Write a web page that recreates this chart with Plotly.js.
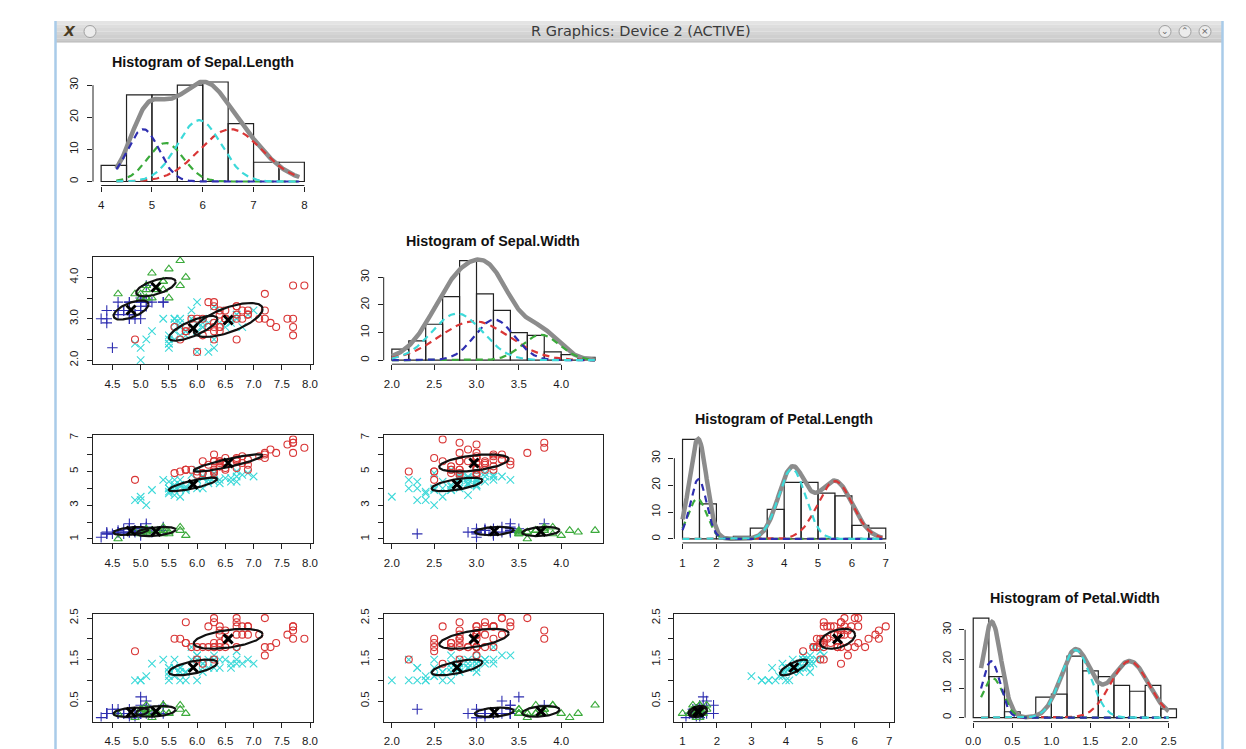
<!DOCTYPE html>
<html><head><meta charset="utf-8">
<script src="https://cdn.plot.ly/plotly-3.0.1.min.js"></script>
<style>html,body{margin:0;padding:0;background:#fff;}#chart{width:1246px;height:749px;}</style>
</head><body><div id="chart"></div>
<script>
// ---------------- data (iris) ----------------
const sepalLength = [5.1,4.9,4.7,4.6,5.0,5.4,4.6,5.0,4.4,4.9,5.4,4.8,4.8,4.3,5.8,5.7,5.4,5.1,5.7,5.1,5.4,5.1,4.6,5.1,4.8,5.0,5.0,5.2,5.2,4.7,4.8,5.4,5.2,5.5,4.9,5.0,5.5,4.9,4.4,5.1,5.0,4.5,4.4,5.0,5.1,4.8,5.1,4.6,5.3,5.0,
7.0,6.4,6.9,5.5,6.5,5.7,6.3,4.9,6.6,5.2,5.0,5.9,6.0,6.1,5.6,6.7,5.6,5.8,6.2,5.6,5.9,6.1,6.3,6.1,6.4,6.6,6.8,6.7,6.0,5.7,5.5,5.5,5.8,6.0,5.4,6.0,6.7,6.3,5.6,5.5,5.5,6.1,5.8,5.0,5.6,5.7,5.7,6.2,5.1,5.7,
6.3,5.8,7.1,6.3,6.5,7.6,4.9,7.3,6.7,7.2,6.5,6.4,6.8,5.7,5.8,6.4,6.5,7.7,7.7,6.0,6.9,5.6,7.7,6.3,6.7,7.2,6.2,6.1,6.4,7.2,7.4,7.9,6.4,6.3,6.1,7.7,6.3,6.4,6.0,6.9,6.7,6.9,5.8,6.8,6.7,6.7,6.3,6.5,6.2,5.9];
const sepalWidth = [3.5,3.0,3.2,3.1,3.6,3.9,3.4,3.4,2.9,3.1,3.7,3.4,3.0,3.0,4.0,4.4,3.9,3.5,3.8,3.8,3.4,3.7,3.6,3.3,3.4,3.0,3.4,3.5,3.4,3.2,3.1,3.4,4.1,4.2,3.1,3.2,3.5,3.6,3.0,3.4,3.5,2.3,3.2,3.5,3.8,3.0,3.8,3.2,3.7,3.3,
3.2,3.2,3.1,2.3,2.8,2.8,3.3,2.4,2.9,2.7,2.0,3.0,2.2,2.9,2.9,3.1,3.0,2.7,2.2,2.5,3.2,2.8,2.5,2.8,2.9,3.0,2.8,3.0,2.9,2.6,2.4,2.4,2.7,2.7,3.0,3.4,3.1,2.3,3.0,2.5,2.6,3.0,2.6,2.3,2.7,3.0,2.9,2.9,2.5,2.8,
3.3,2.7,3.0,2.9,3.0,3.0,2.5,2.9,2.5,3.6,3.2,2.7,3.0,2.5,2.8,3.2,3.0,3.8,2.6,2.2,3.2,2.8,2.8,2.7,3.3,3.2,2.8,3.0,2.8,3.0,2.8,3.8,2.8,2.8,2.6,3.0,3.4,3.1,3.0,3.1,3.1,3.1,2.7,3.2,3.3,3.0,2.5,3.0,3.4,3.0];
const petalLength = [1.4,1.4,1.3,1.5,1.4,1.7,1.4,1.5,1.4,1.5,1.5,1.6,1.4,1.1,1.2,1.5,1.3,1.4,1.7,1.5,1.7,1.5,1.0,1.7,1.9,1.6,1.6,1.5,1.4,1.6,1.6,1.5,1.5,1.4,1.5,1.2,1.3,1.4,1.3,1.5,1.3,1.3,1.3,1.6,1.9,1.4,1.6,1.4,1.5,1.4,
4.7,4.5,4.9,4.0,4.6,4.5,4.7,3.3,4.6,3.9,3.5,4.2,4.0,4.7,3.6,4.4,4.5,4.1,4.5,3.9,4.8,4.0,4.9,4.7,4.3,4.4,4.8,5.0,4.5,3.5,3.8,3.7,3.9,5.1,4.5,4.5,4.7,4.4,4.1,4.0,4.4,4.6,4.0,3.3,4.2,4.2,4.2,4.3,3.0,4.1,
6.0,5.1,5.9,5.6,5.8,6.6,4.5,6.3,5.8,6.1,5.1,5.3,5.5,5.0,5.1,5.3,5.5,6.7,6.9,5.0,5.7,4.9,6.7,4.9,5.7,6.0,4.8,4.9,5.6,5.8,6.1,6.4,5.6,5.1,5.6,6.1,5.6,5.5,4.8,5.4,5.6,5.1,5.1,5.9,5.7,5.2,5.0,5.2,5.4,5.1];
const petalWidth = [0.2,0.2,0.2,0.2,0.2,0.4,0.3,0.2,0.2,0.1,0.2,0.2,0.1,0.1,0.2,0.4,0.4,0.3,0.3,0.3,0.2,0.4,0.2,0.5,0.2,0.2,0.4,0.2,0.2,0.2,0.2,0.4,0.1,0.2,0.2,0.2,0.2,0.1,0.2,0.2,0.3,0.3,0.2,0.6,0.4,0.3,0.2,0.2,0.2,0.2,
1.4,1.5,1.5,1.3,1.5,1.3,1.6,1.0,1.3,1.4,1.0,1.5,1.0,1.4,1.3,1.4,1.5,1.0,1.5,1.1,1.8,1.3,1.5,1.2,1.3,1.4,1.4,1.7,1.5,1.0,1.1,1.0,1.2,1.6,1.5,1.6,1.5,1.3,1.3,1.3,1.2,1.4,1.2,1.0,1.3,1.2,1.3,1.3,1.1,1.3,
2.5,1.9,2.1,1.8,2.2,2.1,1.7,1.8,1.8,2.5,2.0,1.9,2.1,2.0,2.4,2.3,1.8,2.2,2.3,1.5,2.3,2.0,2.0,1.8,2.1,1.8,1.8,1.8,2.1,1.6,1.9,2.0,2.2,1.5,1.4,2.3,2.4,1.8,1.8,2.1,2.4,2.3,1.9,2.3,2.5,2.3,1.9,2.0,2.3,1.8];
// cluster of each flower: 0 = red circle, 1 = green triangle, 2 = blue plus, 3 = cyan cross
const cluster = [1,2,2,2,1,1,2,2,2,2,1,2,2,2,1,1,1,1,1,1,2,1,1,2,2,2,2,1,2,2,2,2,1,1,2,2,1,1,2,2,1,2,2,2,2,2,1,2,1,2,
3,3,3,3,3,3,3,3,3,3,3,3,3,3,3,3,3,3,3,3,3,3,3,3,3,3,3,3,3,3,3,3,3,3,3,3,3,3,3,3,3,3,3,3,3,3,3,3,3,3,
0,0,0,0,0,0,0,0,0,0,0,0,0,0,0,0,0,0,0,0,0,0,0,0,0,0,0,0,0,0,0,0,0,0,0,0,0,0,0,0,0,0,0,0,0,0,0,0,0,0];

const variableNames = ["Sepal.Length","Sepal.Width","Petal.Length","Petal.Width"];

// histogram breaks and counts
const slBreaks = [4,4.5,5,5.5,6,6.5,7,7.5,8];
const slCounts = [5,27,27,30,31,18,6,6];
const swBreaks = [2,2.2,2.4,2.6,2.8,3,3.2,3.4,3.6,3.8,4,4.2,4.4];
const swCounts = [4,7,13,23,36,24,18,10,9,3,2,1];
const plBreaks = [1,1.5,2,2.5,3,3.5,4,4.5,5,5.5,6,6.5,7];
const plCounts = [37,13,0,1,4,11,21,21,17,16,5,4];
const pwBreaks = [0,0.2,0.4,0.6,0.8,1,1.2,1.4,1.6,1.8,2,2.2,2.4,2.6];
const pwCounts = [34,14,2,0,7,8,21,16,14,11,9,11,3];

// mixture components (order: red, green, blue, cyan)
const slMeans = [6.55,5.27,4.83,5.93];
const swMeans = [2.97,3.76,3.21,2.77];
const plMeans = [5.50,1.44,1.47,4.23];
const pwMeans = [2.00,0.25,0.23,1.31];
const slSds = [0.61,0.35,0.31,0.43];
const swSds = [0.41,0.22,0.23,0.30];
const plSds = [0.51,0.27,0.24,0.40];
const pwSds = [0.24,0.13,0.113,0.19];
const slPeaks = [16.3,12.0,16.3,19.1];
const swPeaks = [14.1,9.2,14.7,16.9];
const plPeaks = [21.5,15.0,22.2,26.0];
const pwPeaks = [19.3,13.5,19.3,23.1];
// within-cluster correlations per variable pair
const rhoSlSw = [0.65,0.6,0.6,0.75];
const rhoSlPl = [0.88,0.4,0.4,0.8];
const rhoSwPl = [0.45,0.25,0.25,0.6];
const rhoSlPw = [0.45,0.3,0.3,0.6];
const rhoSwPw = [0.55,0.3,0.3,0.65];
const rhoPlPw = [0.4,0.35,0.35,0.75];

// tick labels
const histXTicks = [[4,5,6,7,8],[2,2.5,3,3.5,4],[1,2,3,4,5,6,7],[0,0.5,1,1.5,2,2.5]];
const histXLabels = [["4","5","6","7","8"],["2.0","2.5","3.0","3.5","4.0"],["1","2","3","4","5","6","7"],["0.0","0.5","1.0","1.5","2.0","2.5"]];
const histYTicks = [0,10,20,30];
const histYLabels = ["0","10","20","30"];
const scatterTicks = [[4.5,5,5.5,6,6.5,7,7.5,8],[2,2.5,3,3.5,4],[1,2,3,4,5,6,7],[0.5,1,1.5,2,2.5]];
const scatterXLabels = [["4.5","5.0","5.5","6.0","6.5","7.0","7.5","8.0"],["2.0","2.5","3.0","3.5","4.0"],["1","2","3","4","5","6","7"],["0.5","1.0","1.5","2.0","2.5"]];
const scatterYLabels = [["4.5","","5.5","","6.5","","7.5",""],["2.0","","3.0","","4.0"],["1","","3","","5","","7"],["0.5","","1.5","","2.5"]];

// ---------------- build ----------------
const vars = [sepalLength,sepalWidth,petalLength,petalWidth];
const breaks = [slBreaks,swBreaks,plBreaks,pwBreaks];
const counts = [slCounts,swCounts,plCounts,pwCounts];
const means = [slMeans,swMeans,plMeans,pwMeans];
const sds = [slSds,swSds,plSds,pwSds];
const peaks = [slPeaks,swPeaks,plPeaks,pwPeaks];
const rhoOf = {"0-1":rhoSlSw,"0-2":rhoSlPl,"1-2":rhoSwPl,"0-3":rhoSlPw,"1-3":rhoSwPw,"2-3":rhoPlPw};
const colors = ['#D93636','#3BAA3B','#2E2EB0','#3DD9D9'];
const symbols = ['circle-open','triangle-up-open','cross-thin-open','x-thin-open'];
const ellipseSdMultiplier = 1.0;

const W=1246,H=749;
const cellW=290.7, cellH=178.7, left0=93, top0=78, plotW=219.5, plotH=107.5;
const FONT = 'Liberation Sans, Arial, Helvetica, sans-serif';
function xdom(c){const l=left0+c*cellW;return [l/W,(l+plotW)/W];}
function ydom(r){const t=top0+r*cellH;return [1-(t+plotH)/H,1-t/H];}
function pad(lo,hi){const d=(hi-lo)*0.04;return [lo-d,hi+d];}
const mn=a=>Math.min(...a), mx=a=>Math.max(...a);

const traces=[]; const layout={width:W,height:H,margin:{l:0,r:0,t:0,b:0},showlegend:false,
  paper_bgcolor:'#ffffff',plot_bgcolor:'rgba(0,0,0,0)',hovermode:false,shapes:[],annotations:[],
  font:{family:FONT,color:'#1a1a1a'}};
let n=0;
function axisBase(){return {showgrid:false,zeroline:false,ticks:'outside',ticklen:5,tickwidth:1,tickcolor:'#222',
  tickfont:{family:FONT,size:11.5,color:'#1a1a1a'},tickmode:'array',fixedrange:true};}

function addPanel(r,c){
  n++;
  const sfx = n===1?'':String(n);
  const xa = 'x'+sfx, ya='y'+sfx;
  const X = axisBase(), Y = axisBase();
  X.domain=xdom(c); Y.domain=ydom(r); X.anchor=ya; Y.anchor=xa;
  Y.tickangle=-90; X.ticklabelstandoff=4; Y.ticklabelstandoff=4;
  if(r===c){
    const i=r, b=breaks[i], cnt=counts[i];
    X.range=pad(b[0],b[b.length-1]); Y.range=pad(0,mx(cnt));
    X.tickvals=histXTicks[i]; X.ticktext=histXLabels[i];
    Y.tickvals=histYTicks; Y.ticktext=histYLabels;
    X.showline=false; Y.showline=false;
    const mids=cnt.map((_,k)=>(b[k]+b[k+1])/2), wid=cnt.map((_,k)=>b[k+1]-b[k]);
    traces.push({type:'bar',x:mids,y:cnt,width:wid,xaxis:xa,yaxis:ya,
      marker:{color:'rgba(255,255,255,0)',line:{color:'#222',width:1.2}}});
    const lo=mn(vars[i]), hi=mx(vars[i]), N=240;
    const gx=[]; for(let k=0;k<=N;k++) gx.push(lo+(hi-lo)*k/N);
    const comp=[0,1,2,3].map(j=>gx.map(x=>peaks[i][j]*Math.exp(-0.5*Math.pow((x-means[i][j])/sds[i][j],2))));
    const tot=gx.map((_,k)=>comp.reduce((s,a)=>s+a[k],0));
    traces.push({type:'scatter',mode:'lines',x:gx,y:tot,xaxis:xa,yaxis:ya,line:{color:'#8C8C8C',width:4.5}});
    for(let j=0;j<4;j++) traces.push({type:'scatter',mode:'lines',x:gx,y:comp[j],xaxis:xa,yaxis:ya,
      line:{color:colors[j],width:2.2,dash:'7px,5px'}});
    const xd=xa+' domain', yd=ya+' domain';
    layout.shapes.push({type:'line',xref:xa,yref:yd,x0:histXTicks[i][0],x1:histXTicks[i][histXTicks[i].length-1],y0:0,y1:0,line:{color:'#222',width:1}});
    layout.shapes.push({type:'line',xref:xd,yref:ya,x0:0,x1:0,y0:histYTicks[0],y1:histYTicks[histYTicks.length-1],line:{color:'#222',width:1}});
    layout.annotations.push({xref:xd,yref:yd,x:0.5,y:1,yshift:16,xanchor:'center',yanchor:'middle',showarrow:false,
      text:'<b>Histogram of '+variableNames[i]+'</b>',font:{family:FONT,size:14.3,color:'#111'}});
  } else {
    const xv=vars[c], yv=vars[r];
    X.range=pad(mn(xv),mx(xv)); Y.range=pad(mn(yv),mx(yv));
    X.tickvals=scatterTicks[c]; X.ticktext=scatterXLabels[c];
    Y.tickvals=scatterTicks[r]; Y.ticktext=scatterYLabels[r];
    X.showline=true; Y.showline=true; X.mirror=true; Y.mirror=true;
    X.linecolor='#222'; Y.linecolor='#222'; X.linewidth=1; Y.linewidth=1;
    for(const j of [2,1,3,0]){
      const px=[],py=[];
      for(let k=0;k<xv.length;k++) if(cluster[k]===j){px.push(xv[k]);py.push(yv[k]);}
      traces.push({type:'scatter',mode:'markers',x:px,y:py,xaxis:xa,yaxis:ya,
        marker:{symbol:symbols[j],size:j===0?7:7.5,color:colors[j],line:{width:1.1,color:colors[j]}}});
    }
    const rho=rhoOf[c+'-'+r];
    for(let j=0;j<4;j++){
      const ex=[],ey=[]; const sx=sds[c][j]*ellipseSdMultiplier, sy=sds[r][j]*ellipseSdMultiplier, q=Math.sqrt(1-rho[j]*rho[j]);
      for(let k=0;k<=120;k++){const t=2*Math.PI*k/120;ex.push(means[c][j]+sx*Math.cos(t));ey.push(means[r][j]+sy*(rho[j]*Math.cos(t)+q*Math.sin(t)));}
      traces.push({type:'scatter',mode:'lines',x:ex,y:ey,xaxis:xa,yaxis:ya,line:{color:'#111',width:2.2}});
    }
    traces.push({type:'scatter',mode:'markers',x:[0,1,2,3].map(j=>means[c][j]),y:[0,1,2,3].map(j=>means[r][j]),xaxis:xa,yaxis:ya,
      marker:{symbol:'x-thin-open',size:9,color:'#000',line:{width:3,color:'#000'}}});
  }
  layout['xaxis'+sfx]=X; layout['yaxis'+sfx]=Y;
}
for(let r=0;r<4;r++) for(let c=0;c<=r;c++) addPanel(r,c);

// ---------------- window chrome ----------------
const P=(px)=>px/W, Q=(py)=>1-py/H;
const barTop=21, barBot=42, winL=55, winR=1223;
const strips=['#e4e4e4','#dedede','#d9d9d9','#d4d4d4','#cfcfcf','#cacaca'];
strips.forEach((col,k)=>{const h=(barBot-barTop)/strips.length;
  layout.shapes.push({type:'rect',xref:'paper',yref:'paper',x0:P(winL),x1:P(winR),y0:Q(barTop+h*(k+1)),y1:Q(barTop+h*k),fillcolor:col,line:{width:0},layer:'below'});});
layout.shapes.push({type:'line',xref:'paper',yref:'paper',x0:P(winL),x1:P(winR),y0:Q(barBot),y1:Q(barBot),line:{color:'#b8b8b8',width:1}});
layout.shapes.push({type:'line',xref:'paper',yref:'paper',x0:P(winL+0.5),x1:P(winL+0.5),y0:Q(barTop),y1:0,line:{color:'#a9cbe9',width:2.5}});
layout.shapes.push({type:'line',xref:'paper',yref:'paper',x0:P(winR-0.5),x1:P(winR-0.5),y0:Q(barTop),y1:0,line:{color:'#a9cbe9',width:2.5}});
function circ(cx,cy,rad){layout.shapes.push({type:'circle',xref:'paper',yref:'paper',x0:P(cx-rad),x1:P(cx+rad),y0:Q(cy+rad),y1:Q(cy-rad),fillcolor:'#ececec',line:{color:'#a0a0a0',width:1}});}
circ(90,31.5,6); circ(1165,31.5,6); circ(1185,31.5,6); circ(1205,31.5,6);
const btn=[['⌄',1165],['⌃',1185],['×',1205]];
btn.forEach(b=>layout.annotations.push({xref:'paper',yref:'paper',x:P(b[1]),y:Q(31.5),text:b[0],showarrow:false,font:{family:'DejaVu Sans',size:9,color:'#666'},xanchor:'center',yanchor:'middle'}));
layout.annotations.push({xref:'paper',yref:'paper',x:P(69),y:Q(31.5),text:'<b><i>X</i></b>',showarrow:false,font:{family:'DejaVu Sans',size:14,color:'#4a3b22'},xanchor:'center',yanchor:'middle'});
layout.annotations.push({xref:'paper',yref:'paper',x:P(641),y:Q(31.5),text:'R Graphics: Device 2 (ACTIVE)',showarrow:false,font:{family:'DejaVu Sans',size:14.5,color:'#3a3a3a'},xanchor:'center',yanchor:'middle'});

Plotly.newPlot('chart',traces,layout,{staticPlot:true,displayModeBar:false});
</script></body></html>
